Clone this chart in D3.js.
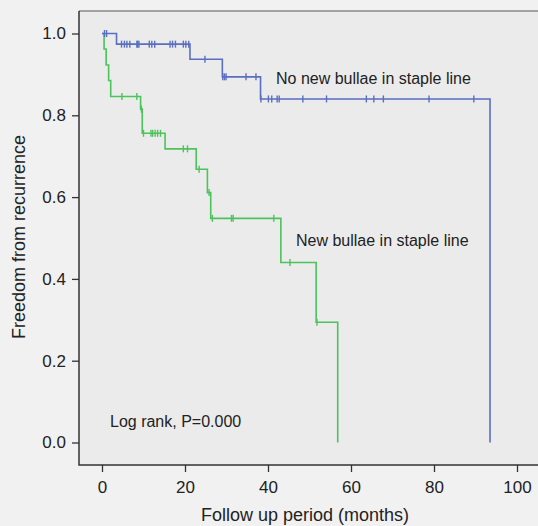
<!DOCTYPE html>
<html>
<head>
<meta charset="utf-8">
<script src="https://cdn.jsdelivr.net/npm/d3@7"></script>
<style>
  body { margin: 0; background: #f1f1f1; }
  svg { display: block; font-family: "Liberation Sans", Arial, Helvetica, sans-serif; }
  .axis text { fill: #222; font-size: 17px; }
  .axis line { stroke: #333; stroke-width: 1.3; }
</style>
</head>
<body>
<script>
  // Kaplan-Meier steps: time (months) and survival after each step
  const blueTime = [0, 3.5, 21.2, 29, 38.2, 93.5];
  const blueSurv = [1.0, 0.974, 0.937, 0.894, 0.84, 0.0];
  const blueCensor = [0.6, 1.1, 4.7, 5.4, 6.0, 6.7, 8.4, 8.6, 8.9, 11.4, 12.0, 12.7,
    16.4, 17.0, 17.7, 19.6, 20.2, 20.9, 24.8, 29.1, 29.5, 29.9, 34.7, 37.1,
    38.3, 40.1, 40.9, 42.2, 42.7, 48.4, 54.1, 63.7, 65.5, 67.8, 78.8, 89.6];

  const greenTime = [0, 0.5, 1.0, 1.6, 2.1, 9.3, 9.7, 15.2, 22.7, 25.4, 26.2, 43.1, 51.6, 56.8];
  const greenSurv = [1.0, 0.962, 0.923, 0.885, 0.846, 0.815, 0.756, 0.718, 0.668, 0.611, 0.548, 0.44, 0.294, 0.0];
  const greenCensor = [4.8, 8.4, 9.5, 10.0, 11.8, 12.2, 12.8, 13.4, 14.1, 19.6, 20.6,
    23.4, 25.8, 26.6, 31.2, 31.6, 41.4, 45.3, 51.8];

  const xTicks = [0, 20, 40, 60, 80, 100];
  const yTicks = [0, 0.2, 0.4, 0.6, 0.8, 1.0];

  const width = 538;
  const height = 526;
  const frame = { left: 79, top: 11, bottom: 465, right: 540 };

  const x = d3.scaleLinear().domain([0, 100]).range([102, 517]);
  const y = d3.scaleLinear().domain([0, 1]).range([442.5, 33.5]);

  const svg = d3.select('body')
    .append('svg')
    .attr('width', width)
    .attr('height', height);

  // plot panel
  svg.append('rect')
    .attr('x', frame.left)
    .attr('y', frame.top)
    .attr('width', frame.right - frame.left)
    .attr('height', frame.bottom - frame.top)
    .attr('fill', '#ebebeb');

  svg.append('line')
    .attr('x1', frame.left).attr('x2', frame.right)
    .attr('y1', frame.top).attr('y2', frame.top)
    .attr('stroke', '#888').attr('stroke-width', 1.5);

  svg.append('path')
    .attr('d', `M${frame.left},${frame.top}V${frame.bottom}H${frame.right}`)
    .attr('fill', 'none')
    .attr('stroke', '#333')
    .attr('stroke-width', 1.5);

  // axes
  svg.append('g')
    .attr('class', 'axis')
    .attr('transform', `translate(0,${frame.bottom})`)
    .call(d3.axisBottom(x).tickValues(xTicks).tickSize(7).tickPadding(9).tickFormat(d3.format('d')))
    .call((g) => g.select('.domain').remove());

  svg.append('g')
    .attr('class', 'axis')
    .attr('transform', `translate(${frame.left},0)`)
    .call(d3.axisLeft(y).tickValues(yTicks).tickSize(7).tickPadding(6).tickFormat(d3.format('.1f')))
    .call((g) => g.select('.domain').remove());

  svg.append('text')
    .attr('x', 305)
    .attr('y', 521)
    .attr('text-anchor', 'middle')
    .attr('font-size', 18)
    .attr('fill', '#222')
    .text('Follow up period (months)');

  svg.append('text')
    .attr('transform', 'translate(25,237) rotate(-90)')
    .attr('text-anchor', 'middle')
    .attr('font-size', 18)
    .attr('fill', '#222')
    .text('Freedom from recurrence');

  // curves
  const line = d3.line()
    .x((d) => x(d[0]))
    .y((d) => y(d[1]))
    .curve(d3.curveStepAfter);

  const survAt = (times, surv, t) => surv[d3.bisectRight(times, t) - 1];

  const drawCurve = (times, surv, censor, color) => {
    svg.append('path')
      .datum(times.map((t, i) => [t, surv[i]]))
      .attr('d', line)
      .attr('fill', 'none')
      .attr('stroke', color)
      .attr('stroke-width', 1.6);

    svg.append('g')
      .selectAll('line')
      .data(censor)
      .join('line')
      .attr('x1', (d) => x(d))
      .attr('x2', (d) => x(d))
      .attr('y1', (d) => y(survAt(times, surv, d)) - 3.5)
      .attr('y2', (d) => y(survAt(times, surv, d)) + 3.5)
      .attr('stroke', color)
      .attr('stroke-width', 1.4);
  };

  drawCurve(greenTime, greenSurv, greenCensor, '#4cc35c');
  drawCurve(blueTime, blueSurv, blueCensor, '#5a6fc2');

  // annotations
  const notes = [
    { text: 'No new bullae in staple line', x: 276, y: 84 },
    { text: 'New bullae in staple line', x: 296, y: 246 },
    { text: 'Log rank, P=0.000', x: 110, y: 427 },
  ];
  svg.append('g')
    .selectAll('text')
    .data(notes)
    .join('text')
    .attr('x', (d) => d.x)
    .attr('y', (d) => d.y)
    .attr('font-size', 16)
    .attr('fill', '#222')
    .text((d) => d.text);
</script>
</body>
</html>
